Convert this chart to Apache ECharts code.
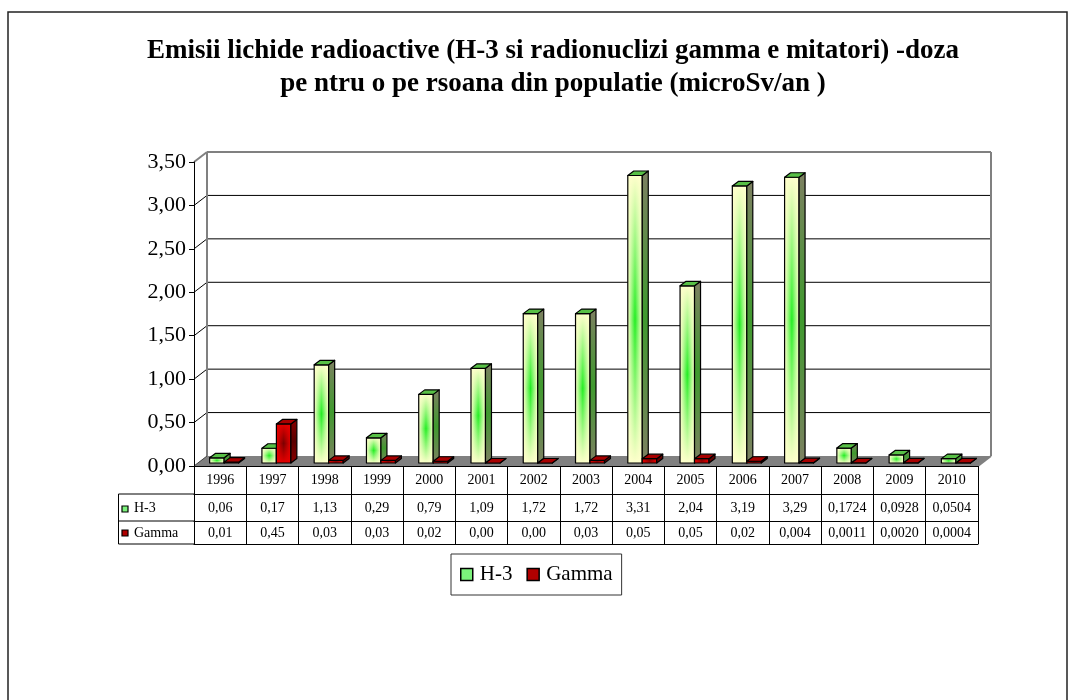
<!DOCTYPE html>
<html>
<head>
<meta charset="utf-8">
<title>Emisii lichide radioactive</title>
<script src="https://cdn.jsdelivr.net/npm/echarts@6/dist/echarts.min.js"></script>
<style>
  html, body { margin: 0; padding: 0; background: #fff; }
  #chart { width: 1070px; height: 700px; }
</style>
</head>
<body>
<div id="chart"></div>
<script>
// ---- data ----
const years = ['1996', '1997', '1998', '1999', '2000', '2001', '2002', '2003',
               '2004', '2005', '2006', '2007', '2008', '2009', '2010'];
const h3Labels = ['0,06', '0,17', '1,13', '0,29', '0,79', '1,09', '1,72', '1,72',
                  '3,31', '2,04', '3,19', '3,29', '0,1724', '0,0928', '0,0504'];
const gammaLabels = ['0,01', '0,45', '0,03', '0,03', '0,02', '0,00', '0,00', '0,03',
                     '0,05', '0,05', '0,02', '0,004', '0,0011', '0,0020', '0,0004'];
const seriesNames = ['H-3', 'Gamma'];
const gridValues = [0.5, 1, 1.5, 2, 2.5, 3];
const yMin = 0, yMax = 3.5, yStep = 0.5;

const toNum = s => parseFloat(s.replace(',', '.'));
const h3Values = h3Labels.map(toNum);
const gammaValues = gammaLabels.map(toNum);

// ---- 3D look ----
const FONT = "'Liberation Serif', 'Times New Roman', serif";
const DX = 13, DY = -10;       // depth of the floor / walls
const OX = 4, OY = -3;         // where the bar fronts sit inside the depth
const BDX = 6, BDY = -4.5;     // depth of one bar
const BAR_FRAC = 0.277;        // bar width as a share of the category band

const G = echarts.graphic;
const lin = (x0, y0, x1, y1, stops) =>
  new G.LinearGradient(x0, y0, x1, y1, stops.map((c, i) => ({ offset: i / (stops.length - 1), color: c })));

const palettes = [
  { // H-3
    front: ['#FFFFCC', '#22EE22', '#FFFFCC'],
    fade: ['rgba(255,255,204,1)', 'rgba(255,255,204,0)', 'rgba(255,255,204,1)'],
    side: ['#7E8062', '#3F9A2E', '#7E8062'],
    top: '#58C046'
  },
  { // Gamma
    front: ['#E80000', '#7A0000', '#E80000'],
    fade: ['rgba(232,0,0,1)', 'rgba(232,0,0,0)', 'rgba(232,0,0,1)'],
    side: ['#8A0000', '#5A0000', '#8A0000'],
    top: '#A80000'
  }
];

function barItem(k) {
  const pal = palettes[k];
  return function (params, api) {
    const idx = api.value(0);
    const base = api.coord([idx, 0]);
    const top = api.coord([idx, api.value(1)]);
    const band = api.size([1, 0])[0];
    const bw = band * BAR_FRAC;
    const xL = base[0] - bw + k * bw + OX;
    const xR = xL + bw;
    const yB = base[1] + OY;
    const yT = top[1] + OY;
    const h = Math.max(yB - yT, 0);
    const edge = { stroke: '#000', lineWidth: 1.2, lineJoin: 'round' };
    return {
      type: 'group',
      children: [
        { type: 'rect', shape: { x: xL, y: yT, width: bw, height: h },
          style: { fill: lin(0, 0, 1, 0, pal.front), stroke: null } },
        { type: 'rect', shape: { x: xL, y: yT, width: bw, height: h },
          style: Object.assign({ fill: lin(0, 0, 0, 1, pal.fade) }, edge) },
        { type: 'polygon',
          shape: { points: [[xR, yT], [xR + BDX, yT + BDY], [xR + BDX, yB + BDY], [xR, yB]] },
          style: Object.assign({ fill: lin(0, 0, 0, 1, pal.side) }, edge) },
        { type: 'polygon',
          shape: { points: [[xL, yT], [xR, yT], [xR + BDX, yT + BDY], [xL + BDX, yT + BDY]] },
          style: Object.assign({ fill: pal.top }, edge) }
      ]
    };
  };
}

// floor and wall outlines of the 3D box
function boxItem(params, api) {
  const cs = params.coordSys;
  const x0 = cs.x, x1 = cs.x + cs.width, yT = cs.y, y0 = cs.y + cs.height;
  const wall = { stroke: '#808080', lineWidth: 2 };
  const line = (a, b, st) => ({ type: 'line', shape: { x1: a[0], y1: a[1], x2: b[0], y2: b[1] }, style: st });
  return {
    type: 'group',
    children: [
      { type: 'polygon',
        shape: { points: [[x0, y0], [x1, y0], [x1 + DX, y0 + DY], [x0 + DX, y0 + DY]] },
        style: { fill: '#808080', stroke: null } },
      line([x0 + DX, yT + DY], [x1 + DX, yT + DY], wall),
      line([x1 + DX, yT + DY], [x1 + DX, y0 + DY], wall),
      line([x1 + DX, y0 + DY], [x1, y0], wall),
      line([x0, yT], [x0 + DX, yT + DY], wall),
      line([x0 + DX, yT + DY], [x0 + DX, y0 + DY], wall),
      line([x0, y0], [x0 + DX, y0 + DY], { stroke: '#404040', lineWidth: 1 })
    ]
  };
}

// horizontal gridlines on the back wall plus their slant on the side wall
function gridItem(params, api) {
  const cs = params.coordSys;
  const y = api.coord([0, api.value(0)])[1];
  const x0 = cs.x, x1 = cs.x + cs.width;
  const st = { stroke: '#000', lineWidth: 1 };
  return {
    type: 'group',
    children: [
      { type: 'line', shape: { x1: x0, y1: y, x2: x0 + DX, y2: y + DY }, style: st },
      { type: 'line', shape: { x1: x0 + DX, y1: y + DY, x2: x1 + DX, y2: y + DY }, style: st }
    ]
  };
}

const tableText = { fontFamily: FONT, fontSize: 14, color: '#000' };
function tableAxis(offset, tickLen, labels, margin) {
  return {
    type: 'category', gridIndex: 0, position: 'bottom', offset: offset,
    data: years, z: 10,
    axisLine: { show: true, lineStyle: { color: '#000', width: 1 } },
    axisTick: { show: tickLen > 0, length: tickLen, interval: 0, lineStyle: { color: '#000', width: 1 } },
    axisLabel: labels ? Object.assign({ show: true, interval: 0, margin: margin,
      formatter: (v, i) => labels[i] }, tableText) : { show: false },
    splitLine: { show: false }
  };
}

const h3Key = { color: '#7CF27C', borderColor: '#000', borderWidth: 1.5 };
const gammaKey = { color: '#B00000', borderColor: '#000', borderWidth: 1.5 };
const titleFont = 'bold 27px ' + FONT;

const chart = echarts.init(document.getElementById('chart'), null, { renderer: 'canvas' });
chart.setOption({
  animation: false,
  backgroundColor: '#fff',
  grid: { left: 194, right: 92, top: 162, bottom: 234, containLabel: false },
  xAxis: [
    tableAxis(0, 28, years, 7),
    tableAxis(28, 27, h3Labels, 7),
    tableAxis(55, 23, gammaLabels, 5),
    tableAxis(78, 0, null, 0)
  ],
  yAxis: {
    type: 'value', min: yMin, max: yMax, interval: yStep,
    axisLine: { show: true, lineStyle: { color: '#000', width: 1 } },
    axisTick: { show: true, length: 5, lineStyle: { color: '#000' } },
    axisLabel: { fontFamily: FONT, fontSize: 22, color: '#000', margin: 8,
      formatter: v => v.toFixed(2).replace('.', ',') },
    splitLine: { show: false },
    z: 10
  },
  legend: {
    left: 451, top: 554,
    orient: 'horizontal',
    itemWidth: 12, itemHeight: 12, itemGap: 14,
    padding: [10, 9, 10, 9],
    borderColor: '#333', borderWidth: 1,
    textStyle: { fontFamily: FONT, fontSize: 21, color: '#000', padding: [0, 0, 0, 2] },
    selectedMode: false,
    data: [
      { name: seriesNames[0], icon: 'rect', itemStyle: h3Key },
      { name: seriesNames[1], icon: 'rect', itemStyle: gammaKey }
    ]
  },
  series: [
    { type: 'custom', name: 'grid', xAxisIndex: 0, yAxisIndex: 0, z: 1, silent: true,
      renderItem: gridItem, data: gridValues.map(v => [v]), encode: { y: 0 } },
    { type: 'custom', name: 'box', xAxisIndex: 0, yAxisIndex: 0, z: 1, silent: true,
      renderItem: boxItem, data: [[0, 0]] },
    { type: 'custom', name: seriesNames[0], xAxisIndex: 0, yAxisIndex: 0, z: 2,
      itemStyle: { color: '#7CF27C' },
      renderItem: barItem(0), data: h3Values.map((v, i) => [i, v]) },
    { type: 'custom', name: seriesNames[1], xAxisIndex: 0, yAxisIndex: 0, z: 3,
      itemStyle: { color: '#B00000' },
      renderItem: barItem(1), data: gammaValues.map((v, i) => [i, v]) }
  ],
  graphic: [
    // outer frame
    { type: 'rect', shape: { x: 8, y: 12, width: 1059, height: 700 },
      style: { fill: null, stroke: '#222', lineWidth: 1.5 }, z: 0 },
    // title
    { type: 'text', x: 553, y: 51, z: 5,
      style: { text: 'Emisii lichide radioactive (H-3 si radionuclizi gamma e mitatori) -doza',
        font: titleFont, fill: '#000', textAlign: 'center', textVerticalAlign: 'middle' } },
    { type: 'text', x: 553, y: 84, z: 5,
      style: { text: 'pe ntru o pe rsoana din populatie (microSv/an )',
        font: titleFont, fill: '#000', textAlign: 'center', textVerticalAlign: 'middle' } },
    // legend-key column of the data table
    { type: 'line', shape: { x1: 118.5, y1: 494, x2: 194, y2: 494 }, style: { stroke: '#000', lineWidth: 1 } },
    { type: 'line', shape: { x1: 118.5, y1: 521, x2: 194, y2: 521 }, style: { stroke: '#000', lineWidth: 1 } },
    { type: 'line', shape: { x1: 118.5, y1: 544, x2: 194, y2: 544 }, style: { stroke: '#000', lineWidth: 1 } },
    { type: 'line', shape: { x1: 118.5, y1: 494, x2: 118.5, y2: 544 }, style: { stroke: '#000', lineWidth: 1 } },
    { type: 'rect', shape: { x: 122, y: 506, width: 6, height: 6 },
      style: { fill: h3Key.color, stroke: '#000', lineWidth: 1.2 } },
    { type: 'text', x: 134, y: 508, style: { text: seriesNames[0], textVerticalAlign: 'middle',
      font: '14px ' + FONT, fill: '#000' } },
    { type: 'rect', shape: { x: 122, y: 530, width: 6, height: 6 },
      style: { fill: gammaKey.color, stroke: '#000', lineWidth: 1.2 } },
    { type: 'text', x: 134, y: 533, style: { text: seriesNames[1], textVerticalAlign: 'middle',
      font: '14px ' + FONT, fill: '#000' } }
  ]
});
</script>
</body>
</html>
